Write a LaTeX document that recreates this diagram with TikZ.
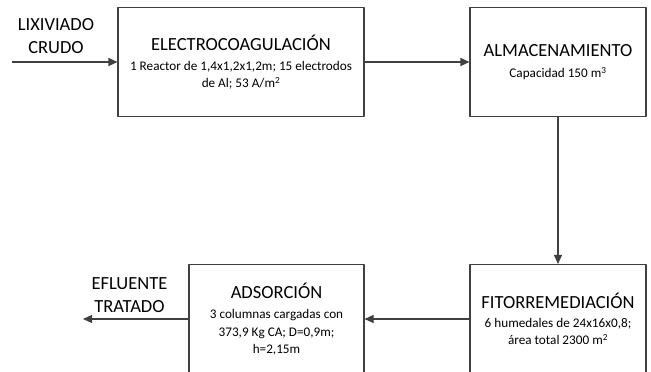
\documentclass[tikz,border=0pt]{standalone}
\usepackage{fontspec}
\setmainfont{Carlito}
\usetikzlibrary{arrows.meta}
\newcommand{\titulo}{\fontsize{18.5}{22}\selectfont}
\newcommand{\detalle}{\fontsize{13.2}{17.5}\selectfont}
\begin{document}
\begin{tikzpicture}[x=1pt,y=-1pt,line join=round,>={Triangle[length=9pt,width=8pt]}]
	\tikzset{caja/.style={draw=black!75, line width=1.1pt, minimum height=109pt, inner sep=0pt, align=center, font=\detalle},
		flecha/.style={->, draw=black!75, fill=black!75, line width=1.1pt},
		rotulo/.style={align=center, font=\fontsize{18.5}{23}\selectfont, inner sep=0pt}}
	\useasboundingbox (0,0) rectangle (651,372);
	\clip (0,0) rectangle (651,372);
	% cajas
	\node[caja, minimum width=246pt] (electro) at (241,62) {{\titulo ELECTROCOAGULACIÓN}\\[2.5pt]1 Reactor de 1,4x1,2x1,2m; 15 electrodos\\de Al; 53 A/m\textsuperscript{2}};
	\node[caja, minimum width=176pt] (almac) at (558,62) {{\titulo ALMACENAMIENTO}\\[3.5pt]Capacidad 150 m\textsuperscript{3}};
	\node[caja, minimum width=176pt] (fito) at (558,319) {{\titulo FITORREMEDIACIÓN}\\[1.5pt]6 humedales de 24x16x0,8;\\área total 2300 m\textsuperscript{2}};
	\node[caja, minimum width=175pt] (adsor) at (276.5,319) {{\titulo ADSORCIÓN}\\[3pt]3 columnas cargadas con\\373,9 Kg CA; D=0,9m;\\h=2,15m};
	% rotulos
	\node[rotulo] (lix) at (56,36) {LIXIVIADO\\CRUDO};
	\node[rotulo] (efl) at (129.5,295) {EFLUENTE\\TRATADO};
	\coordinate (ini) at (12,62);
	\coordinate (fin) at (83,319);
	% flechas
	\draw[flecha] (ini) -- (electro.west);
	\draw[flecha] (electro.east) -- (almac.west);
	\draw[flecha] (almac.south) -- (fito.north);
	\draw[flecha] (fito.west) -- (adsor.east);
	\draw[flecha] (adsor.west) -- (fin);
\end{tikzpicture}
\end{document}
